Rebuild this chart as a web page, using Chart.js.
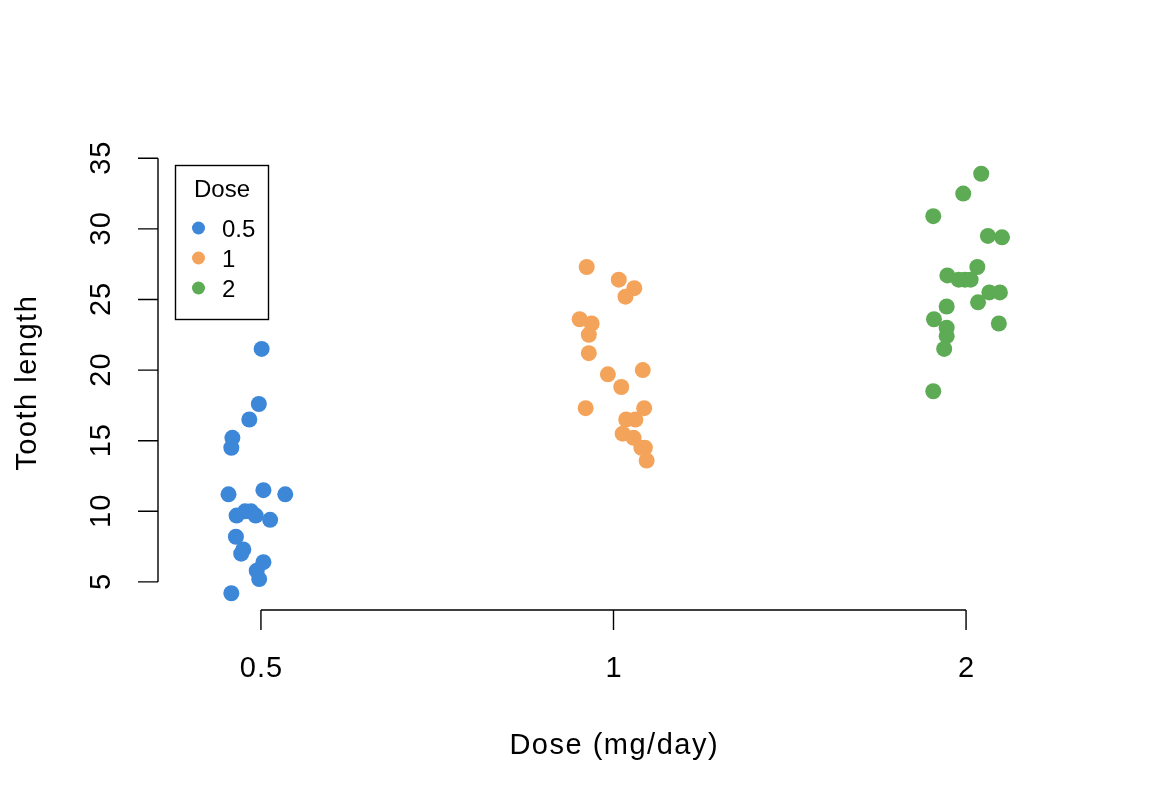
<!DOCTYPE html>
<html>
<head>
<meta charset="utf-8">
<title>Tooth length by dose</title>
<script src="https://cdn.jsdelivr.net/npm/chart.js@4/dist/chart.umd.min.js"></script>
<style>
  html, body { margin: 0; padding: 0; background: #fff; }
  canvas { display: block; }
</style>
</head>
<body>
<canvas id="chart" width="1152" height="806"></canvas>
<script>
'use strict';

// Dose groups (x categories) and colours
const doses = ['0.5', '1', '2'];
const doseColors = ['#3D87D8', '#F4A35A', '#5DAB55'];

// Tooth length per dose, with the horizontal jitter of each point (in category units)
const lenHalf = [21.5, 17.6, 16.5, 15.2, 14.5, 11.2, 11.5, 11.2, 10, 10, 9.7, 9.7, 9.4, 8.2, 7.3, 7, 6.4, 5.8, 5.2, 4.2];
const jitHalf = [0.002, -0.006, -0.033, -0.081, -0.084, -0.092, 0.007, 0.069, -0.045, -0.028, -0.069, -0.015, 0.026, -0.071, -0.050, -0.056, 0.007, -0.012, -0.005, -0.084];

const lenOne = [27.3, 26.4, 25.8, 25.2, 23.6, 23.3, 22.5, 21.2, 20, 19.7, 18.8, 17.3, 17.3, 16.5, 16.5, 15.5, 15.2, 14.5, 14.5, 13.6];
const jitOne = [-0.076, 0.015, 0.059, 0.034, -0.096, -0.062, -0.070, -0.070, 0.083, -0.016, 0.022, -0.079, 0.087, 0.036, 0.062, 0.026, 0.057, 0.089, 0.079, 0.094];

const lenTwo = [33.9, 32.5, 30.9, 29.5, 29.4, 27.3, 26.7, 26.4, 26.4, 26.4, 25.5, 25.5, 24.8, 24.5, 23.6, 23.3, 23, 22.4, 21.5, 18.5];
const jitTwo = [0.043, -0.008, -0.093, 0.062, 0.102, 0.032, -0.053, -0.021, -0.003, 0.013, 0.066, 0.096, 0.034, -0.055, -0.091, 0.093, -0.055, -0.055, -0.062, -0.093];

// Axis ticks
const yTicks = [5, 10, 15, 20, 25, 30, 35];

const FONT = '"Liberation Sans", Arial, Helvetica, sans-serif';

const toPoints = (lens, jits, pos) => lens.map((v, i) => ({ x: pos + jits[i], y: v }));

const datasets = [
    { label: doses[0], data: toPoints(lenHalf, jitHalf, 1), backgroundColor: doseColors[0] },
    { label: doses[1], data: toPoints(lenOne, jitOne, 2), backgroundColor: doseColors[1] },
    { label: doses[2], data: toPoints(lenTwo, jitTwo, 3), backgroundColor: doseColors[2] },
].map(d => ({ ...d, pointRadius: 8, pointHoverRadius: 8, borderWidth: 0, pointBorderWidth: 0 }));

// centred text with letter spacing (trailing gap compensated)
const spacedText = (ctx, text, x, y, spacing) => {
    ctx.letterSpacing = spacing + 'px';
    ctx.fillText(text, x + spacing / 2, y);
    ctx.letterSpacing = '0px';
};

// R-style axes, titles and boxed legend, drawn from the chart's own scales
const baseGraphics = {
    id: 'baseGraphics',
    afterDraw(chart) {
        const ctx = chart.ctx;
        const xs = chart.scales.x;
        const ys = chart.scales.y;
        const area = chart.chartArea;
        const tick = 20;

        ctx.save();
        ctx.strokeStyle = '#000';
        ctx.fillStyle = '#000';
        ctx.lineWidth = 1.4;

        // y axis
        const yTop = ys.getPixelForValue(yTicks[yTicks.length - 1]);
        const yBot = ys.getPixelForValue(yTicks[0]);
        ctx.beginPath();
        ctx.moveTo(area.left, yTop);
        ctx.lineTo(area.left, yBot);
        yTicks.forEach(t => {
            const py = ys.getPixelForValue(t);
            ctx.moveTo(area.left, py);
            ctx.lineTo(area.left - tick, py);
        });
        ctx.stroke();

        ctx.font = '29px ' + FONT;
        ctx.textAlign = 'center';
        ctx.textBaseline = 'alphabetic';
        yTicks.forEach(t => {
            const py = ys.getPixelForValue(t);
            ctx.save();
            ctx.translate(110, py);
            ctx.rotate(-Math.PI / 2);
            spacedText(ctx, String(t), 0, 0, 1);
            ctx.restore();
        });

        // x axis
        const xL = xs.getPixelForValue(1);
        const xR = xs.getPixelForValue(doses.length);
        ctx.beginPath();
        ctx.moveTo(xL, area.bottom);
        ctx.lineTo(xR, area.bottom);
        doses.forEach((d, i) => {
            const px = xs.getPixelForValue(i + 1);
            ctx.moveTo(px, area.bottom);
            ctx.lineTo(px, area.bottom + tick);
        });
        ctx.stroke();
        doses.forEach((d, i) => {
            spacedText(ctx, d, xs.getPixelForValue(i + 1), 677, 1);
        });

        // axis titles
        spacedText(ctx, 'Dose (mg/day)', (xL + xR) / 2, 754, 1.5);
        ctx.save();
        ctx.translate(36, (area.top + area.bottom) / 2);
        ctx.rotate(-Math.PI / 2);
        spacedText(ctx, 'Tooth length', 0, 0, 1.5);
        ctx.restore();

        // legend
        ctx.lineWidth = 1.4;
        ctx.strokeRect(175.5, 165.5, 93, 154);
        ctx.font = '24px ' + FONT;
        ctx.fillText('Dose', 222, 197);
        ctx.textAlign = 'left';
        chart.data.datasets.forEach((ds, i) => {
            const cy = 228 + i * 30;
            ctx.beginPath();
            ctx.fillStyle = ds.backgroundColor;
            ctx.arc(198.5, cy, 6.5, 0, Math.PI * 2);
            ctx.fill();
            ctx.fillStyle = '#000';
            ctx.fillText(ds.label, 222, cy + 9);
        });
        ctx.restore();
    }
};

new Chart(document.getElementById('chart'), {
    type: 'scatter',
    data: { datasets },
    options: {
        responsive: false,
        animation: false,
        events: [],
        layout: { padding: { left: 158, right: 83, top: 157, bottom: 196 } },
        plugins: {
            legend: { display: false },
            tooltip: { enabled: false },
        },
        scales: {
            x: { type: 'linear', min: 0.708, max: 3.292, display: false },
            y: { type: 'linear', min: 3.012, max: 35.088, display: false },
        },
    },
    plugins: [baseGraphics],
});
</script>
</body>
</html>
